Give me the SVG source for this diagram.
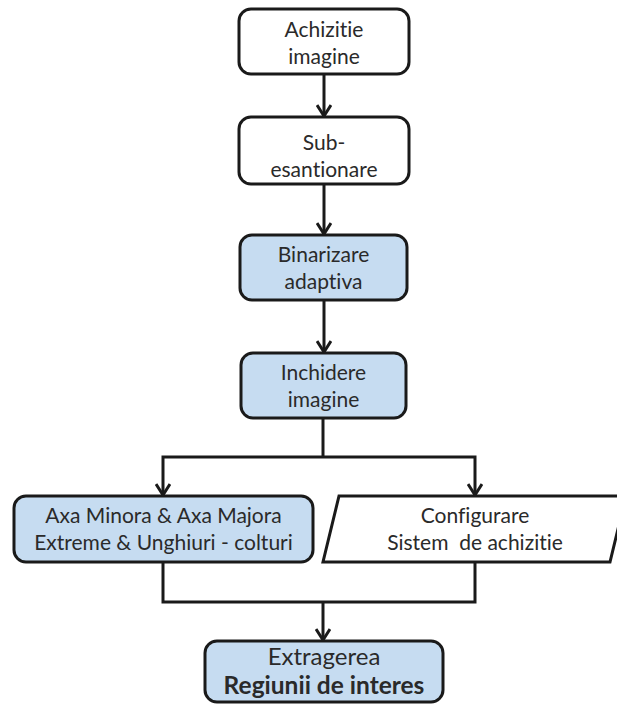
<svg xmlns="http://www.w3.org/2000/svg" width="617" height="705" viewBox="0 0 617 705">
<defs>
<style>
.box{stroke:#1a1a1a;stroke-width:3;}
.w{fill:#ffffff;}
.b{fill:#c6dcf1;}
.t{font-family:Lato,"Open Sans",sans-serif;font-size:21px;fill:#2a2a2a;text-anchor:middle;font-variant-ligatures:none;}
.big{font-size:24px;}
.bold{font-weight:bold;font-size:24.5px;}
.c{fill:none;stroke:#1a1a1a;stroke-width:3;}
</style>
<marker id="ah" viewBox="0 0 14 16" markerWidth="14" markerHeight="16" refX="12" refY="8" orient="auto-start-reverse" markerUnits="userSpaceOnUse">
<path d="M1,1 L12,8 L1,15" fill="none" stroke="#1a1a1a" stroke-width="3"/>
</marker>
</defs>
<rect width="617" height="705" fill="#ffffff"/>
<g id="connectors">
<line class="c" x1="324" y1="74" x2="324" y2="116" marker-end="url(#ah)"/>
<line class="c" x1="324" y1="184" x2="324" y2="234" marker-end="url(#ah)"/>
<line class="c" x1="324" y1="300" x2="324" y2="352" marker-end="url(#ah)"/>
<polyline class="c" points="323,418 323,457"/>
<polyline class="c" points="163,495 163,457 475,457 475,495" marker-start="url(#ah)" marker-end="url(#ah)"/>
<polyline class="c" points="163,562 163,602 475,602 475,562"/>
<line class="c" x1="323" y1="602" x2="323" y2="640" marker-end="url(#ah)"/>
</g>
<g id="n1">
<rect class="box w" x="239" y="9" width="170" height="65" rx="12"/>
<text class="t" x="324" y="37">Achizitie</text>
<text class="t" x="324" y="64">imagine</text>
</g>
<g id="n2">
<rect class="box w" x="239" y="117" width="170" height="67" rx="12"/>
<text class="t" x="324" y="150">Sub-</text>
<text class="t" x="324" y="177">esantionare</text>
</g>
<g id="n3">
<rect class="box b" x="240" y="235" width="167" height="65" rx="12"/>
<text class="t" x="323.5" y="262">Binarizare</text>
<text class="t" x="323.5" y="289">adaptiva</text>
</g>
<g id="n4">
<rect class="box b" x="241" y="353" width="165" height="65" rx="12"/>
<text class="t" x="323.5" y="380">Inchidere</text>
<text class="t" x="323.5" y="407">imagine</text>
</g>
<g id="n5">
<rect class="box b" x="14" y="496" width="299" height="66" rx="12"/>
<text class="t" x="163.5" y="523">Axa Minora &amp; Axa Majora</text>
<text class="t" x="163.5" y="550">Extreme &amp; Unghiuri - colturi</text>
</g>
<g id="n6">
<polygon class="box w" points="339,496 626,496 610,562 323,562"/>
<text class="t" x="475" y="523">Configurare</text>
<text class="t" x="475" y="550" xml:space="preserve">Sistem  de achizitie</text>
</g>
<g id="n7">
<rect class="box b" x="205" y="641" width="238" height="61" rx="12"/>
<text class="t big" x="324" y="665">Extragerea</text>
<text class="t big bold" x="324" y="694">Regiunii de interes</text>
</g>
</svg>
